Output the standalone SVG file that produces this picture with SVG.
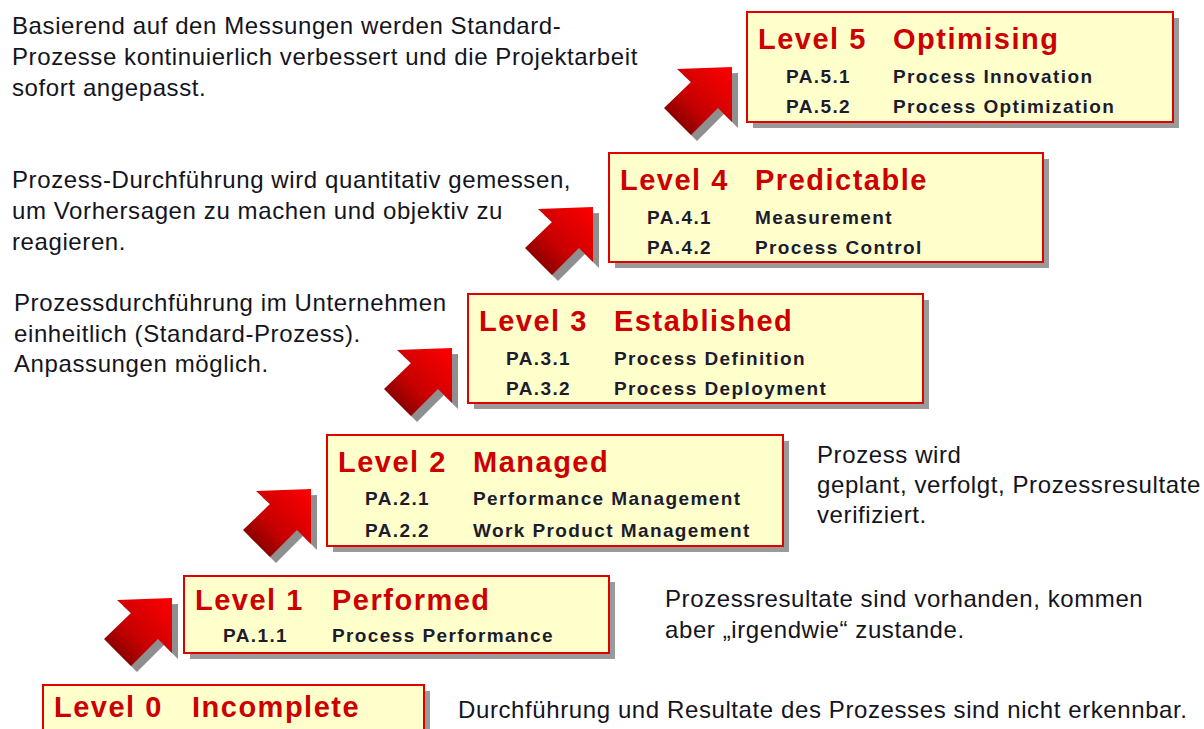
<svg xmlns="http://www.w3.org/2000/svg" xmlns:xlink="http://www.w3.org/1999/xlink" width="1204" height="729" viewBox="0 0 1204 729">
<style>
.box{fill:#ffffcc;stroke:#e00000;stroke-width:2}
.sh{fill:#9a9a9a}
.ttl{font-family:"Liberation Sans",Arial,sans-serif;font-weight:bold;font-size:29px;fill:#cc0000;letter-spacing:1.5px}
.sub{font-family:"Liberation Sans",Arial,sans-serif;font-weight:bold;font-size:19px;fill:#1c1c2c;letter-spacing:1.4px}
.txt{font-family:"Liberation Sans",Arial,sans-serif;font-size:24px;fill:#141420;letter-spacing:0.6px}
.arrsh{fill:#8f8f8f}
</style>
<defs>
<linearGradient id="ag" x1="0" y1="1" x2="1" y2="0">
<stop offset="0" stop-color="#600000"/>
<stop offset="0.45" stop-color="#c80000"/>
<stop offset="1" stop-color="#ff0000"/>
</linearGradient>
<path id="arr" d="M-55,2 L0,0 L0,55 L-14,41 L-41,68 L-68,41 L-41,15 Z"/>
</defs>
<rect width="1204" height="729" fill="#ffffff"/>

<g id="connectors">
<use xlink:href="#arr" href="#arr" class="arrsh" x="178" y="604"/>
<use xlink:href="#arr" href="#arr" fill="url(#ag)" x="172" y="598"/>
<use xlink:href="#arr" href="#arr" class="arrsh" x="317" y="495"/>
<use xlink:href="#arr" href="#arr" fill="url(#ag)" x="311" y="489"/>
<use xlink:href="#arr" href="#arr" class="arrsh" x="458" y="354"/>
<use xlink:href="#arr" href="#arr" fill="url(#ag)" x="452" y="348"/>
<use xlink:href="#arr" href="#arr" class="arrsh" x="599" y="213"/>
<use xlink:href="#arr" href="#arr" fill="url(#ag)" x="593" y="207"/>
<use xlink:href="#arr" href="#arr" class="arrsh" x="738" y="73"/>
<use xlink:href="#arr" href="#arr" fill="url(#ag)" x="732" y="67"/>
</g>

<g id="level5">
<rect class="sh" x="753" y="18" width="426" height="110"/>
<rect class="box" x="747" y="12" width="426" height="110"/>
<text class="ttl" x="758" y="49">Level 5</text>
<text class="ttl" x="893" y="49">Optimising</text>
<text class="sub" x="786" y="83">PA.5.1</text>
<text class="sub" x="893" y="83">Process Innovation</text>
<text class="sub" x="786" y="113">PA.5.2</text>
<text class="sub" x="893" y="113">Process Optimization</text>
</g>

<g id="level4">
<rect class="sh" x="615" y="159" width="434" height="109"/>
<rect class="box" x="609" y="153" width="434" height="109"/>
<text class="ttl" x="620" y="190">Level 4</text>
<text class="ttl" x="755" y="190">Predictable</text>
<text class="sub" x="647" y="224">PA.4.1</text>
<text class="sub" x="755" y="224">Measurement</text>
<text class="sub" x="647" y="254">PA.4.2</text>
<text class="sub" x="755" y="254">Process Control</text>
</g>

<g id="level3">
<rect class="sh" x="474" y="300" width="455" height="109"/>
<rect class="box" x="468" y="294" width="455" height="109"/>
<text class="ttl" x="479" y="331">Level 3</text>
<text class="ttl" x="614" y="331">Established</text>
<text class="sub" x="506" y="365">PA.3.1</text>
<text class="sub" x="614" y="365">Process Definition</text>
<text class="sub" x="506" y="395">PA.3.2</text>
<text class="sub" x="614" y="395">Process Deployment</text>
</g>

<g id="level2">
<rect class="sh" x="333" y="441" width="456" height="111"/>
<rect class="box" x="327" y="435" width="456" height="111"/>
<text class="ttl" x="338" y="472">Level 2</text>
<text class="ttl" x="473" y="472">Managed</text>
<text class="sub" x="365" y="505">PA.2.1</text>
<text class="sub" x="473" y="505">Performance Management</text>
<text class="sub" x="365" y="537">PA.2.2</text>
<text class="sub" x="473" y="537">Work Product Management</text>
</g>

<g id="level1">
<rect class="sh" x="190" y="582" width="425" height="77"/>
<rect class="box" x="184" y="576" width="425" height="77"/>
<text class="ttl" x="195" y="610">Level 1</text>
<text class="ttl" x="332" y="610">Performed</text>
<text class="sub" x="223" y="642">PA.1.1</text>
<text class="sub" x="332" y="642">Process Performance</text>
</g>

<g id="level0">
<rect class="sh" x="49" y="691" width="381" height="60"/>
<rect class="box" x="43" y="685" width="381" height="60"/>
<text class="ttl" x="54" y="717">Level 0</text>
<text class="ttl" x="192" y="717">Incomplete</text>
</g>

<g id="desc5">
<text class="txt" x="12" y="34">Basierend auf den Messungen werden Standard-</text>
<text class="txt" x="12" y="65">Prozesse kontinuierlich verbessert und die Projektarbeit</text>
<text class="txt" x="12" y="96">sofort angepasst.</text>
</g>
<g id="desc4">
<text class="txt" x="12" y="188">Prozess-Durchführung wird quantitativ gemessen,</text>
<text class="txt" x="12" y="219">um Vorhersagen zu machen und objektiv zu</text>
<text class="txt" x="12" y="250">reagieren.</text>
</g>
<g id="desc3">
<text class="txt" x="14" y="311">Prozessdurchführung im Unternehmen</text>
<text class="txt" x="14" y="342">einheitlich (Standard-Prozess).</text>
<text class="txt" x="14" y="372">Anpassungen möglich.</text>
</g>
<g id="desc2">
<text class="txt" x="817" y="463">Prozess wird</text>
<text class="txt" x="817" y="493">geplant, verfolgt, Prozessresultate</text>
<text class="txt" x="817" y="523">verifiziert.</text>
</g>
<g id="desc1">
<text class="txt" x="665" y="607">Prozessresultate sind vorhanden, kommen</text>
<text class="txt" x="665" y="638">aber „irgendwie“ zustande.</text>
</g>
<g id="desc0">
<text class="txt" x="458" y="718">Durchführung und Resultate des Prozesses sind nicht erkennbar.</text>
</g>
</svg>
